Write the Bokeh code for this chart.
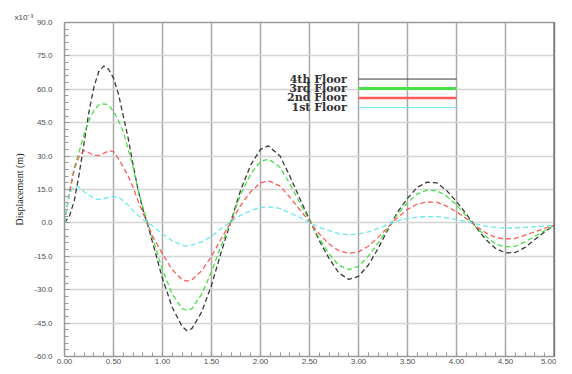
from bokeh.plotting import figure
from bokeh.models import FixedTicker, PrintfTickFormatter, Label, Arrow, Range1d, Span
from bokeh.embed import file_html
from bokeh.resources import INLINE

# ---- data (displacement, x10^-3 m) ----
time_s = [0, 0.05, 0.1, 0.15, 0.2, 0.25, 0.3, 0.35, 0.4, 0.45, 0.5, 0.55, 0.6, 0.65, 0.7, 0.75, 0.8, 0.85, 0.9,
          1.0, 1.1, 1.2, 1.25, 1.3,
          1.4, 1.5, 1.6, 1.7, 1.8, 1.9, 2.0,
          2.08,
          2.2, 2.3, 2.4, 2.5, 2.6, 2.7, 2.8, 2.9, 3.0, 3.1, 3.2, 3.3, 3.4, 3.5, 3.6, 3.7, 3.8, 3.9, 4.0,
          4.1, 4.2, 4.3, 4.4, 4.5, 4.6, 4.7, 4.8, 4.9, 5.0]

floor4 = [0, 3, 10, 22, 36, 50, 61, 68, 70.5, 69, 65, 58, 48, 38, 26, 15, 6, -1, -9,
          -25, -38, -46.5, -48.4, -47.5,
          -40, -28, -13, 1, 15, 26, 33,
          34.6,
          30, 21, 11, 1.5, -8, -16, -22.5, -25.4, -24, -19, -11.5, -3, 5, 11, 16, 18.3, 18, 14.5, 9.5,
          4, -2, -7.5, -11.5, -13.5, -13.3, -11, -7.5, -4, -1]

floor3 = [0, 14, 25, 32, 40, 46, 50.5, 53, 53.5, 53, 50, 46, 41, 33, 25, 15, 7, 0, -7,
          -21, -32, -38.5, -39.3, -38.5,
          -32, -22, -10, 1, 13, 22, 27.5,
          28.7,
          25, 17.5, 9, 1, -7, -14, -19, -21, -19.5, -15, -9, -2.5, 4, 9, 13, 14.7, 14.5, 12, 8,
          3, -2, -6, -9.5, -10.8, -10.5, -8.5, -6, -3.5, -1]

floor2 = [0, 13, 24, 30, 32.5, 31.5, 30.3, 30.3, 31.2, 32.3, 32, 29, 25, 21, 16, 10, 4.5, -1, -6,
          -14, -21, -25.5, -26.2, -25.5,
          -21.5, -15, -7, 0.5, 8, 14, 18,
          18.9,
          16.5, 11.5, 6, 0.5, -5, -9.5, -12.5, -13.7, -13, -10.5, -6.5, -2, 2.5, 6, 8.5, 9.4, 9.3, 7.5, 5,
          2, -1.5, -4.5, -6.5, -7.2, -7, -5.5, -4, -2.5, -1]

floor1 = [0, 13, 16.5, 16, 14, 12.5, 11, 10.5, 10.8, 11.5, 11.8, 11.5, 10, 8, 5.5, 3.5, 1.5, 0, -1.5,
          -5, -8, -10, -10.4, -10,
          -8.5, -6, -2.5, 0.5, 3.5, 5.5, 7,
          7.2,
          6.5, 4.5, 2.5, 0.2, -2, -3.5, -4.8, -5.3, -5, -4, -2.5, -0.8, 1, 2, 2.6, 2.8, 2.8, 2.3, 1.5,
          0.5, -0.5, -1.5, -2, -2.3, -2.3, -2, -1.7, -1.4, -1.2]

series_names = ["4th Floor", "3rd Floor", "2nd Floor", "1st Floor"]
x_ticks = [0.0, 0.5, 1.0, 1.5, 2.0, 2.5, 3.0, 3.5, 4.0, 4.5, 5.0]
x_minor = [0.1, 0.2, 0.3, 0.4, 0.6, 0.7, 0.8, 0.9, 1.1, 1.2, 1.3, 1.4, 1.6, 1.7, 1.8, 1.9,
           2.1, 2.2, 2.3, 2.4, 2.6, 2.7, 2.8, 2.9, 3.1, 3.2, 3.3, 3.4, 3.6, 3.7, 3.8, 3.9,
           4.1, 4.2, 4.3, 4.4, 4.6, 4.7, 4.8, 4.9]
y_ticks = [-60, -45, -30, -15, 0, 15, 30, 45, 60, 75, 90]
y_minor = [v for v in range(-60, 91, 3) if v % 15 != 0]

colors = ["#3a3a3a", "#48e048", "#ff5a5a", "#6ae8f0"]
legend_widths = [1, 3, 2.5, 1]

p = figure(width=556, height=366, output_backend="svg", toolbar_location=None,
           x_range=Range1d(0, 5.0), y_range=Range1d(-60, 90),
           min_border_left=64, min_border_right=2, min_border_top=22, min_border_bottom=9)

p.title.text = "x10\u207b\u00b3"
p.title.align = "left"
p.title.offset = -50
p.title.text_font = "Liberation Sans"
p.title.text_font_size = "8px"
p.title.text_font_style = "normal"
p.title.text_color = "#444444"
p.title.standoff = 2

for ser, col in zip([floor4, floor3, floor2, floor1], colors):
    p.line(time_s, ser, line_color=col, line_width=1.3, line_dash="5 3")

# axes
p.xaxis.ticker = FixedTicker(ticks=x_ticks, minor_ticks=x_minor)
p.yaxis.ticker = FixedTicker(ticks=y_ticks, minor_ticks=y_minor)
p.xaxis.formatter = PrintfTickFormatter(format="%.2f")
p.yaxis.formatter = PrintfTickFormatter(format="%.1f")
for ax in (p.xaxis[0], p.yaxis[0]):
    ax.major_tick_in = 5
    ax.major_tick_out = 0
    ax.minor_tick_in = 4
    ax.minor_tick_out = 0
    ax.major_tick_line_color = "#999999"
    ax.minor_tick_line_color = "#999999"
    ax.axis_line_color = "#999999"
    ax.major_label_text_font = "Liberation Sans"
    ax.major_label_text_font_size = "8px"
    ax.major_label_text_color = "#505050"
p.xaxis.major_label_standoff = 2
p.yaxis.major_label_standoff = 12
p.yaxis.axis_label = "Displacement (m)"
p.yaxis.axis_label_text_font = "Liberation Serif"
p.yaxis.axis_label_text_font_size = "10px"
p.yaxis.axis_label_text_font_style = "normal"
p.yaxis.axis_label_text_color = "#222222"
p.yaxis.axis_label_standoff = 6

p.xgrid.ticker = FixedTicker(ticks=x_ticks)
p.ygrid.ticker = FixedTicker(ticks=y_ticks)
p.xgrid.grid_line_color = "#a8a8a8"
p.xgrid.grid_line_width = 1.5
p.ygrid.grid_line_color = "#d4d4d4"
p.ygrid.grid_line_width = 1.5
p.outline_line_color = "#9a9a9a"
p.outline_line_width = 1.5

# right border darker
p.add_layout(Span(location=5.0, dimension="height", line_color="#555555", line_width=2))

# legend: text on the left, sample line on the right
leg_y = [64.6, 60.4, 56.1, 51.8]
for name, col, lw, yy in zip(series_names, colors, legend_widths, leg_y):
    p.add_layout(Label(x=2.88, y=yy, text=name, text_align="right", text_baseline="middle",
                       text_font="DejaVu Serif", text_font_size="11px",
                       text_font_style="bold", text_color="#333333"))
    p.add_layout(Arrow(end=None, x_start=3.0, y_start=yy, x_end=4.0, y_end=yy,
                       line_color=col, line_width=lw))

open("out.html", "w").write(file_html(p, INLINE))
